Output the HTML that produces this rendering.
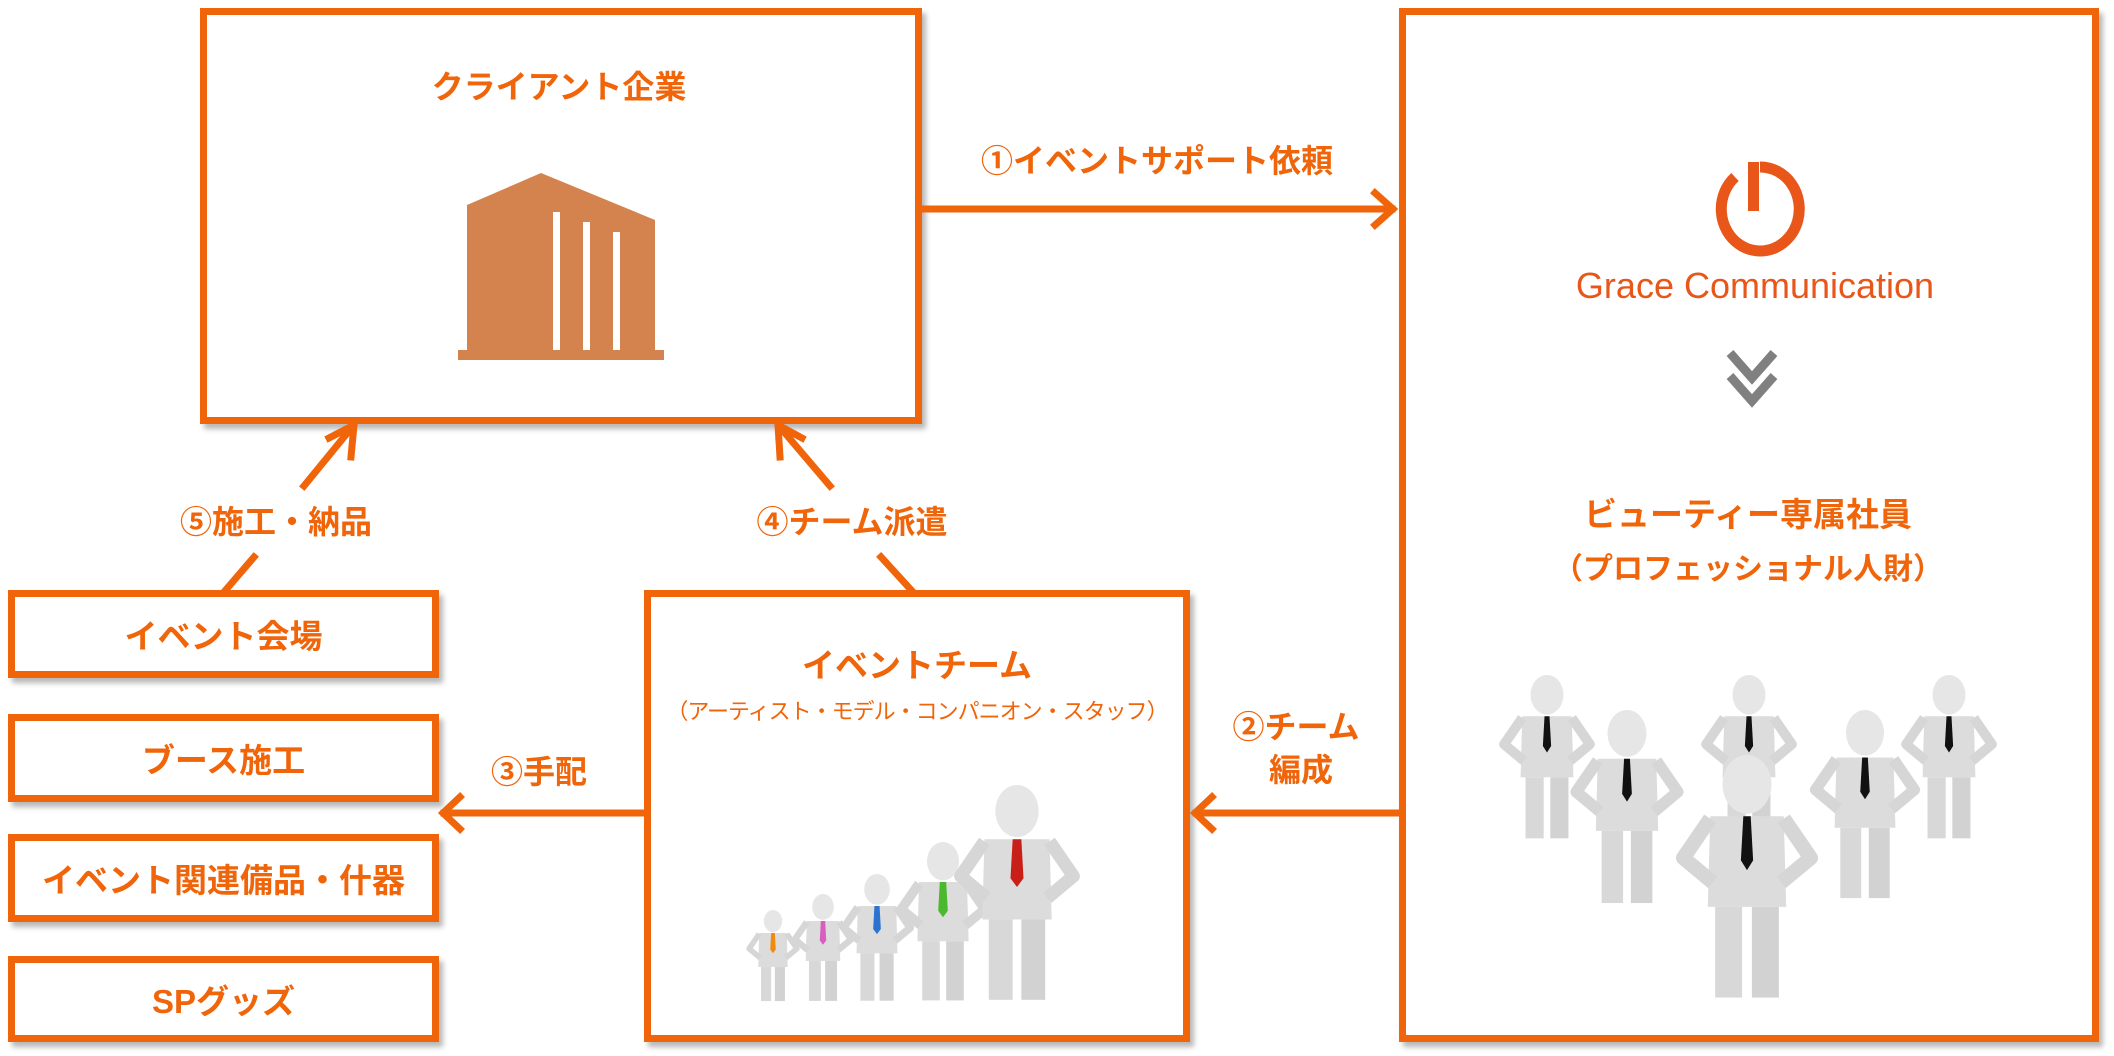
<!DOCTYPE html>
<html><head><meta charset="utf-8"><style>
body{margin:0;width:2114px;height:1056px;background:#fff;overflow:hidden;position:relative;font-family:"Liberation Sans","Noto Sans CJK JP",sans-serif}
.b{position:absolute;border:7px solid #F0640A;box-sizing:border-box;background:#fff;box-shadow:4px 5px 5px rgba(0,0,0,.28)}
.t{position:absolute;color:#F0640A;font-weight:bold;text-align:center;white-space:nowrap;transform:translate(-50%,-50%)}
.lb{display:flex;align-items:center;justify-content:center;color:#F0640A;font-weight:bold;font-size:33px}
</style></head><body>
<div class="b" style="left:200px;top:8px;width:722px;height:416px"></div>
<div class="b" style="left:1399px;top:8px;width:700px;height:1034px"></div>
<div class="b" style="left:644px;top:590px;width:546px;height:452px"></div>
<div class="b lb" style="left:8px;top:590px;width:431px;height:88px">イベント会場</div>
<div class="b lb" style="left:8px;top:714px;width:431px;height:88px">ブース施工</div>
<div class="b lb" style="left:8px;top:834px;width:431px;height:88px">イベント関連備品・什器</div>
<div class="b lb" style="left:8px;top:956px;width:431px;height:86px">SPグッズ</div>

<svg width="2114" height="1056" style="position:absolute;left:0;top:0">
<g stroke="#F0640A" stroke-width="7" fill="none" stroke-linecap="square">
<line x1="922" y1="209" x2="1392" y2="209"/><polyline points="1375,193 1393,209 1375,225"/>
<line x1="1399" y1="813" x2="1196" y2="813"/><polyline points="1212,797 1195,813 1212,829"/>
<line x1="644" y1="813" x2="444" y2="813"/><polyline points="460,797 443,813 460,829"/>
<line x1="304" y1="486" x2="353" y2="426"/><polyline points="329,438 354,425 351,457"/>
<line x1="254" y1="557" x2="224" y2="592"/>
<line x1="830" y1="486" x2="779" y2="426"/><polyline points="802,438 778,425 780,457"/>
<line x1="881" y1="557" x2="913" y2="592"/>
</g>
<g fill="#D4834F">
<polygon points="467,205 541,173 655,220 655,350 467,350"/>
<rect x="458" y="350" width="206" height="10"/>
</g>
<g fill="#fff"><rect x="553" y="212" width="7" height="138"/><rect x="583" y="222" width="7" height="128"/><rect x="613" y="232" width="7" height="118"/></g>
<g>
<path d="M1735,177 A39,42 0 1 0 1760,167" stroke="#E8561A" stroke-width="11" fill="none"/>
<rect x="1748" y="162" width="11" height="49" fill="#E8561A"/>
</g>
<g stroke="#808080" stroke-width="9" fill="none"><polyline points="1730,353 1752,378 1774,353"/><polyline points="1730,376 1752,401 1774,376"/></g>
<defs>
<g id="p">
<ellipse cx="0" cy="-88" rx="10" ry="12" fill="#e6e6e6"/>
<path d="M-15,-75 L15,-75 L16,-38 L-16,-38 Z" fill="#dcdcdc"/>
<path d="M-15,-74 L-26,-58 L-14,-48 M15,-74 L26,-58 L14,-48" stroke="#d6d6d6" stroke-width="6" fill="none" stroke-linejoin="round"/>
<rect x="-13" y="-38" width="11" height="37" fill="#d8d8d8"/><rect x="2" y="-38" width="11" height="37" fill="#d2d2d2"/>
</g>
</defs>
<g>
<g transform="translate(1547,840) scale(1.65)"><use href="#p"/><path d="M-1.5,-75 h3 l1,18 -2.5,4 -2.5,-4z" fill="#111"/></g>
<g transform="translate(1949,840) scale(1.65)"><use href="#p"/><path d="M-1.5,-75 h3 l1,18 -2.5,4 -2.5,-4z" fill="#111"/></g>
<g transform="translate(1749,840) scale(1.65)"><use href="#p"/><path d="M-1.5,-75 h3 l1,18 -2.5,4 -2.5,-4z" fill="#111"/></g>
<g transform="translate(1627,905) scale(1.95)"><use href="#p"/><path d="M-1.5,-75 h3 l1,18 -2.5,4 -2.5,-4z" fill="#111"/></g>
<g transform="translate(1865,900) scale(1.9)"><use href="#p"/><path d="M-1.5,-75 h3 l1,18 -2.5,4 -2.5,-4z" fill="#111"/></g>
<g transform="translate(1747,1000) scale(2.45)"><use href="#p"/><path d="M-1.5,-75 h3 l1,18 -2.5,4 -2.5,-4z" fill="#111"/></g>

<g transform="translate(773,1002) scale(0.92)"><use href="#p"/><path d="M-2,-75 h4 l1,18 -3,4 -3,-4z" fill="#F08A10"/></g>
<g transform="translate(823,1002) scale(1.08)"><use href="#p"/><path d="M-2,-75 h4 l1,18 -3,4 -3,-4z" fill="#D85FC0"/></g>
<g transform="translate(877,1002) scale(1.28)"><use href="#p"/><path d="M-2,-75 h4 l1,18 -3,4 -3,-4z" fill="#2A74D0"/></g>
<g transform="translate(943,1002) scale(1.6)"><use href="#p"/><path d="M-2,-75 h4 l1,18 -3,4 -3,-4z" fill="#4CB830"/></g>
<g transform="translate(1017,1002) scale(2.17)"><use href="#p"/><path d="M-2,-75 h4 l1,18 -3,4 -3,-4z" fill="#C82018"/></g>
</g>
</svg>

<div class="t" style="left:559px;top:85px;font-size:32px">クライアント企業</div>
<div class="t" style="left:1157px;top:159px;font-size:32px">①イベントサポート依頼</div>
<div class="t" style="left:1755px;top:286px;font-size:36px;font-weight:normal;color:#E8561A">Grace Communication</div>
<div class="t" style="left:1748px;top:512px;font-size:33px">ビューティー専属社員</div>
<div class="t" style="left:1748px;top:566px;font-size:30px">（プロフェッショナル人財）</div>
<div class="t" style="left:276px;top:520px;font-size:32px">⑤施工・納品</div>
<div class="t" style="left:852px;top:520px;font-size:32px">④チーム派遣</div>
<div class="t" style="left:917px;top:663px;font-size:33px">イベントチーム</div>
<div class="t" style="left:917px;top:710px;font-size:22px;font-weight:normal;letter-spacing:-1px">（アーティスト・モデル・コンパニオン・スタッフ）</div>
<div class="t" style="left:1296px;top:725px;font-size:32px">②チーム</div>
<div class="t" style="left:1301px;top:768px;font-size:32px">編成</div>
<div class="t" style="left:539px;top:770px;font-size:32px">③手配</div>
</body></html>
